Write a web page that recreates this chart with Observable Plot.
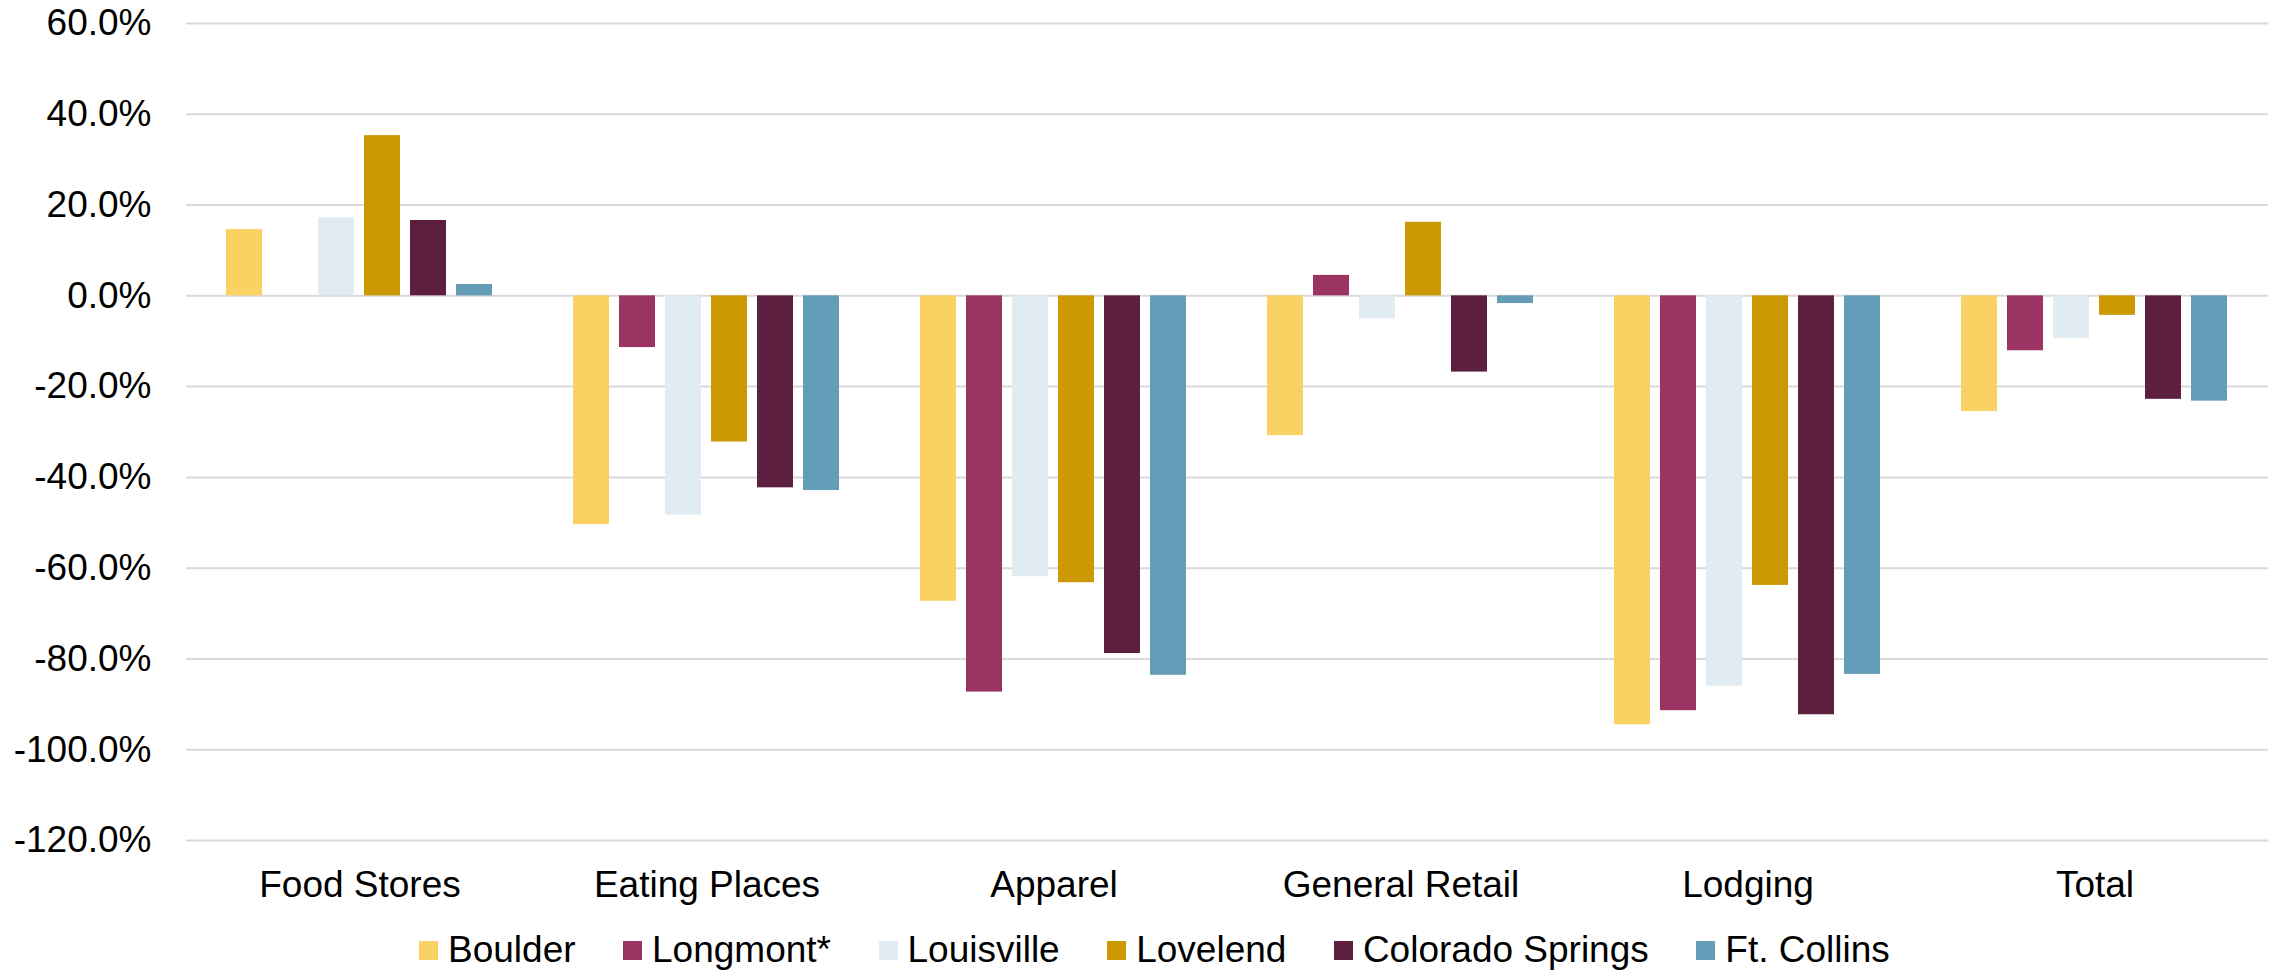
<!DOCTYPE html>
<html>
<head>
<meta charset="utf-8">
<script src="https://cdn.jsdelivr.net/npm/d3@7"></script>
<script src="https://cdn.jsdelivr.net/npm/@observablehq/plot@0.6"></script>
<style>
  html, body { margin: 0; padding: 0; background: #fff; }
  body { font-family: "Liberation Sans", Arial, sans-serif; }
  #legend { display: flex; align-items: center; height: 44px; margin-top: 18px; margin-left: 419px; font-size: 37px; color: #000; white-space: nowrap; }
  #legend .item { display: flex; align-items: center; margin-right: 47.5px; }
  #legend .sw { width: 19px; height: 19px; margin-right: 10px; display: inline-block; }
</style>
</head>
<body>
<div id="chart"></div>
<div id="legend"></div>
<script>
const categories = ["Food Stores", "Eating Places", "Apparel", "General Retail", "Lodging", "Total"];
const series = ["Boulder", "Longmont*", "Louisville", "Lovelend", "Colorado Springs", "Ft. Collins"];
const colors = ["#FAD264", "#9B3363", "#E0ECF1", "#CC9904", "#5C1F3F", "#649DB8"];
// values in percent, one array per series, ordered as categories
const boulder         = [14.6, -50.4, -67.3, -30.8, -94.5, -25.5];
const longmont        = [null, -11.4, -87.3,   4.5, -91.4, -12.1];
const louisville      = [17.2, -48.3, -61.9,  -5.1, -86.0,  -9.4];
const lovelend        = [35.3, -32.2, -63.2,  16.2, -63.8,  -4.3];
const coloradoSprings = [16.6, -42.3, -78.8, -16.8, -92.3, -22.8];
const ftCollins       = [ 2.5, -42.9, -83.6,  -1.7, -83.4, -23.2];
const yTicks = [60, 40, 20, 0, -20, -40, -60, -80, -100, -120];

const seriesValues = [boulder, longmont, louisville, lovelend, coloradoSprings, ftCollins];
const data = [];
series.forEach((s, i) => {
  categories.forEach((c, j) => {
    const v = seriesValues[i][j];
    if (v != null) data.push({category: c, series: s, value: v});
  });
});

const chart = Plot.plot({
  width: 2277,
  height: 910,
  marginTop: 23,
  marginBottom: 70,
  marginLeft: 184,
  marginRight: 7,
  style: {fontFamily: "'Liberation Sans', Arial, sans-serif", fontSize: "37px", color: "#000", background: "#fff"},
  fx: {domain: categories, padding: 0, axis: "bottom", tickSize: 0, tickPadding: 30, label: null},
  x: {domain: series, axis: null, paddingInner: 0.216, paddingOuter: 0.855},
  y: {domain: [-120, 60], ticks: yTicks, tickFormat: d => d.toFixed(1) + "%", tickSize: 0, tickPadding: 35, label: null},
  color: {domain: series, range: colors},
  marks: [
    Plot.ruleY(yTicks, {stroke: "#d9d9d9", strokeWidth: 2}),
    Plot.barY(data, {fx: "category", x: "series", y: "value", fill: "series"})
  ]
});
document.getElementById("chart").appendChild(chart);

const legend = document.getElementById("legend");
series.forEach((s, i) => {
  const item = document.createElement("div");
  item.className = "item";
  const sw = document.createElement("span");
  sw.className = "sw";
  sw.style.background = colors[i];
  const t = document.createElement("span");
  t.textContent = s;
  item.appendChild(sw);
  item.appendChild(t);
  legend.appendChild(item);
});
</script>
</body>
</html>
